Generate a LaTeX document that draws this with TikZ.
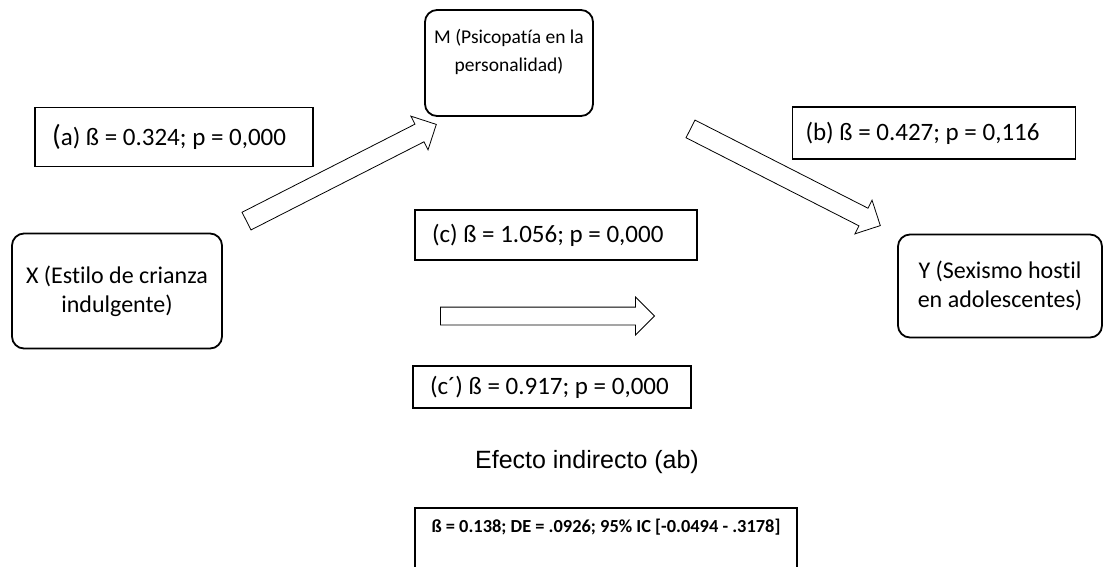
\documentclass[tikz,border=0pt]{standalone}
\usepackage{fontspec}
\setmainfont{Carlito}[Ligatures=NoCommon]
\newfontfamily\arialfont{Liberation Sans}
\usetikzlibrary{positioning,shapes.arrows}
\frenchspacing

\begin{document}
\begin{tikzpicture}[x=1pt, y=-1pt,
        font=\fontsize{24}{29}\selectfont,
        varbox/.style={draw, rounded corners=12pt, line width=1.8pt, align=center, inner sep=0pt},
        coef/.style={draw, line width=1.3pt, inner ysep=0pt, inner xsep=17pt, font=\fontsize{25}{30}\selectfont},
        flecha/.style={draw, fill=white, single arrow, single arrow head extend=9pt,
            inner xsep=0pt, inner ysep=9.5pt, minimum height=213pt, line width=0.8pt}]
        \useasboundingbox (0,0) rectangle (1103,566);
        % variables
        \node[varbox, minimum width=168pt, minimum height=106pt] (M) at (509,63) {};
        \node[align=center, font=\fontsize{19.5}{28}\selectfont] (Mtxt) at (509,52) {M (Psicopatía en la\\personalidad)};
        \node[varbox, minimum width=210pt, minimum height=115pt] (X) at (117,291) {X (Estilo de crianza\\indulgente)};
        \node[varbox, minimum width=204pt, minimum height=103pt] (Y) at (1000,286) {Y (Sexismo hostil\\en adolescentes)};
        % coeficientes
        \node[coef, minimum height=59pt] (a) at (174,137) {\makebox[244pt][l]{{\fontsize{29}{29}\selectfont(}a) ß = 0.324; p = 0,000}};
        \node[coef, inner xsep=13pt, minimum height=52pt] (b) at (934,133) {\makebox[257pt][l]{(b) ß = 0.427; p = 0,116}};
        \node[coef, minimum height=50pt] (c) at (556,235) {\makebox[248pt][l]{(c) ß = 1.056; p = 0,000}};
        \node[coef, minimum height=42pt] (cp) at (552,387) {\makebox[244pt][l]{(c´) ß = 0.917; p = 0,000}};
        % flechas
        \node[flecha, rotate=27] (XM) at (337,175) {};
        \node[flecha, rotate=-27] (MY) at (781,175) {};
        \node[flecha, inner ysep=8.5pt, single arrow head extend=10pt, minimum height=214pt] (XY) at (543,316) {};
        % efecto indirecto
        \node[font=\arialfont\fontsize{25}{30}\selectfont] (efecto) at (587,462) {Efecto indirecto (ab)};
        \node[font=\fontsize{18.4}{22}\selectfont\bfseries] (ab) at (606,527) {ß = 0.138; DE = .0926; 95\% IC [-0.0494 - .3178]};
        \draw[line width=1.4pt] (415,590) |- (797,508) -- (797,590);
    \end{tikzpicture}
\end{document}
